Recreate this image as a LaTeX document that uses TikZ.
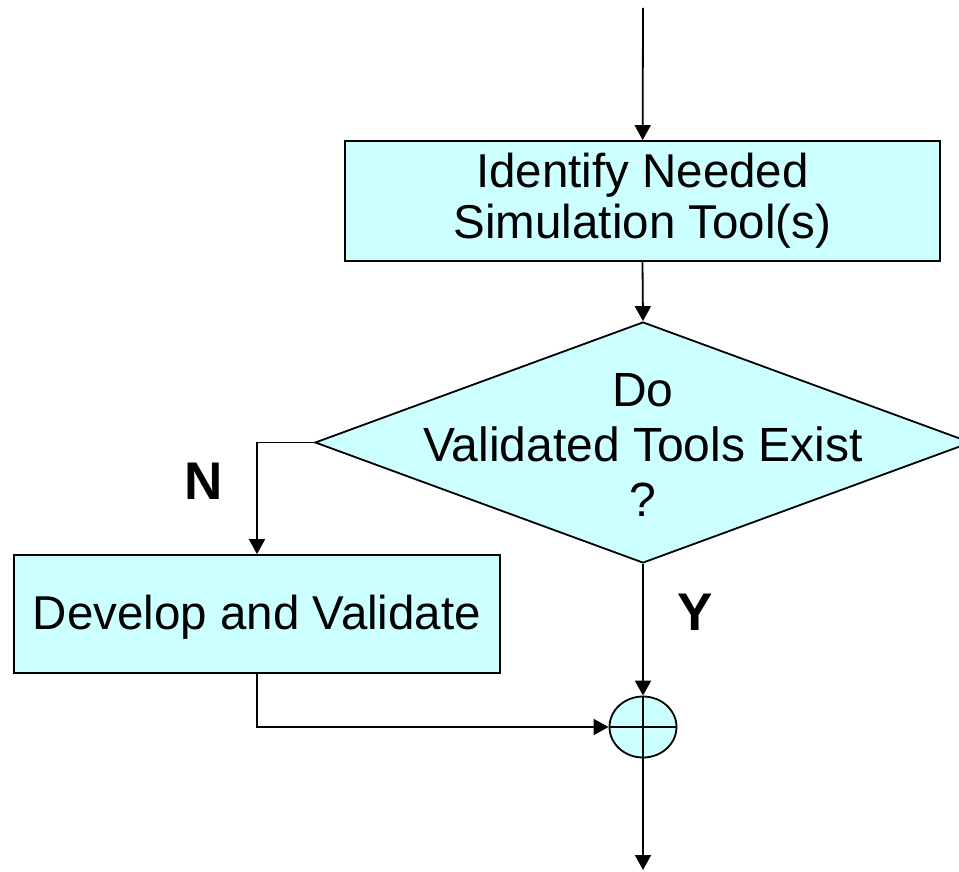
\documentclass[tikz,border=0pt]{standalone}
\usepackage{fontspec}
\setmainfont{Liberation Sans}
\usetikzlibrary{shapes.geometric,arrows.meta}
\definecolor{cianoclaro}{HTML}{CCFFFF}
\begin{document}
\begin{tikzpicture}[x=1pt,y=-1pt,
    caixa/.style={draw,line width=1.8pt,fill=cianoclaro,align=center,
      inner sep=0pt,font=\fontsize{47.5}{51}\selectfont},
    losango/.style={diamond,draw,line width=1.8pt,fill=cianoclaro,inner sep=0pt,
      minimum width=656pt,minimum height=241pt},
    soma/.style={ellipse,draw,line width=1.8pt,fill=cianoclaro,inner sep=0pt,
      minimum width=67pt,minimum height=61pt},
    seta/.style={line width=1.8pt,-{Triangle[width=16pt,length=15pt]}},
    rotulo/.style={font=\fontsize{53}{60}\selectfont\bfseries}]
      \useasboundingbox (0,0) rectangle (959,872);
      \coordinate (p0) at (643,8); % entrada e saida do fluxo
      \coordinate (p5) at (643,870);
      \node[caixa,minimum width=595pt,minimum height=120pt] (p1) at (642.5,201)
          {Identify Needed\\Simulation Tool(s)};
      \node[losango] (p2) at (643,442.5) {};
      \node[align=center,font=\fontsize{48}{55}\selectfont] (p2t) at (643,445)
          {Do\\Validated Tools Exist\\?};
      \node[caixa,minimum width=486pt,minimum height=118pt,text height=40pt] (p3)
          at (257,614) {Develop and Validate};
      \node[soma] (p4) at (643,727) {};
      \draw[line width=1.8pt] (p4.north) -- (p4.south) (p4.west) -- (p4.east);
      \draw[seta] (p0) -- (p1);
      \draw[seta] (p1.south) -- (p2.north);
      \draw[seta] (p2.west) -| (p3.north);
      \draw[seta] (p2.south) -- (p4.north);
      \draw[seta] (p3.south) |- (p4.west);
      \draw[seta] (p4.south) -- (p5);
      \node[rotulo] (n) at (204,481) {N};
      \node[rotulo] (y) at (695,612) {Y};
  \end{tikzpicture}
\end{document}
